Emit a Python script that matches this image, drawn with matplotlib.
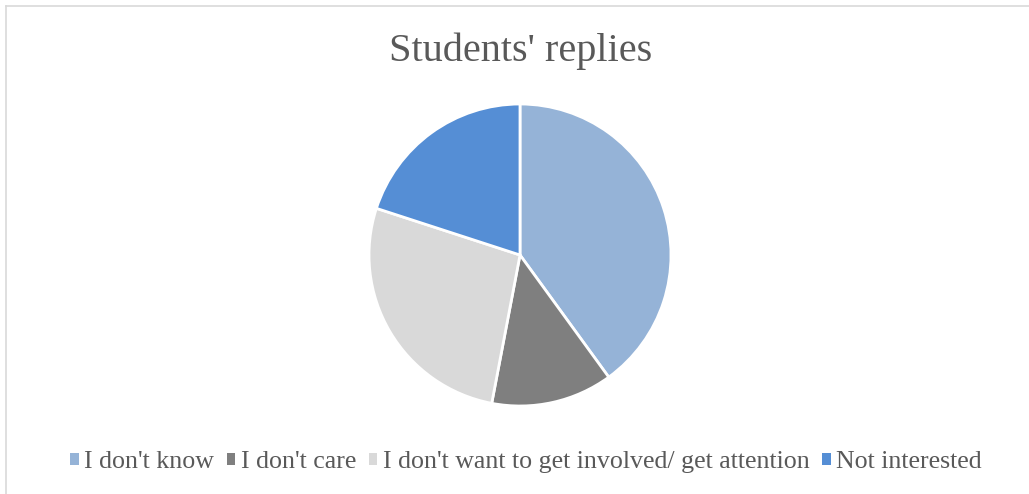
import matplotlib.pyplot as plt
from matplotlib.lines import Line2D
from matplotlib.patches import Patch

labels = ["I don't know", "I don't care", "I don't want to get involved/ get attention", "Not interested"]
values = [40, 13, 27, 20]
colors = ['#95B3D7', '#7F7F7F', '#D9D9D9', '#558ED5']

W, H = 1029, 494
fig = plt.figure(figsize=(W / 100, H / 100), dpi=100)
plt.rcParams['font.family'] = ['Liberation Serif', 'DejaVu Serif']

# chart frame (only left and top edges visible in the crop)
fig.add_artist(Line2D([6 / W, 6 / W], [0, 1 - 6 / H], transform=fig.transFigure, color='#D9D9D9', lw=1.2))
fig.add_artist(Line2D([6 / W, 1], [1 - 6 / H, 1 - 6 / H], transform=fig.transFigure, color='#D9D9D9', lw=1.2))

# pie axes: centre (520, 255) px, radius ~151 px
cx, cy, r = 520, 255, 151
ax = fig.add_axes([(cx - r) / W, (H - cy - r) / H, 2 * r / W, 2 * r / H])
ax.pie(values, colors=colors, startangle=90, counterclock=False,
       wedgeprops=dict(edgecolor='white', linewidth=2))
ax.set_aspect('equal')
ax.set_xlim(-1, 1)
ax.set_ylim(-1, 1)
ax.axis('off')

fig.text(521 / W, 1 - 51 / H, "Students' replies", ha='center', va='center',
         fontsize=29, color='#595959')

handles = [Patch(facecolor=c, edgecolor='none') for c in colors]
fig.legend(handles, labels, loc='center', bbox_to_anchor=(526 / W, 1 - 462 / H), ncol=4,
           frameon=False, fontsize=18.6, labelcolor='#595959', handlelength=0.33, handleheight=0.33,
           handletextpad=0.2, columnspacing=0.5)

fig.savefig('out.png', dpi=100)
